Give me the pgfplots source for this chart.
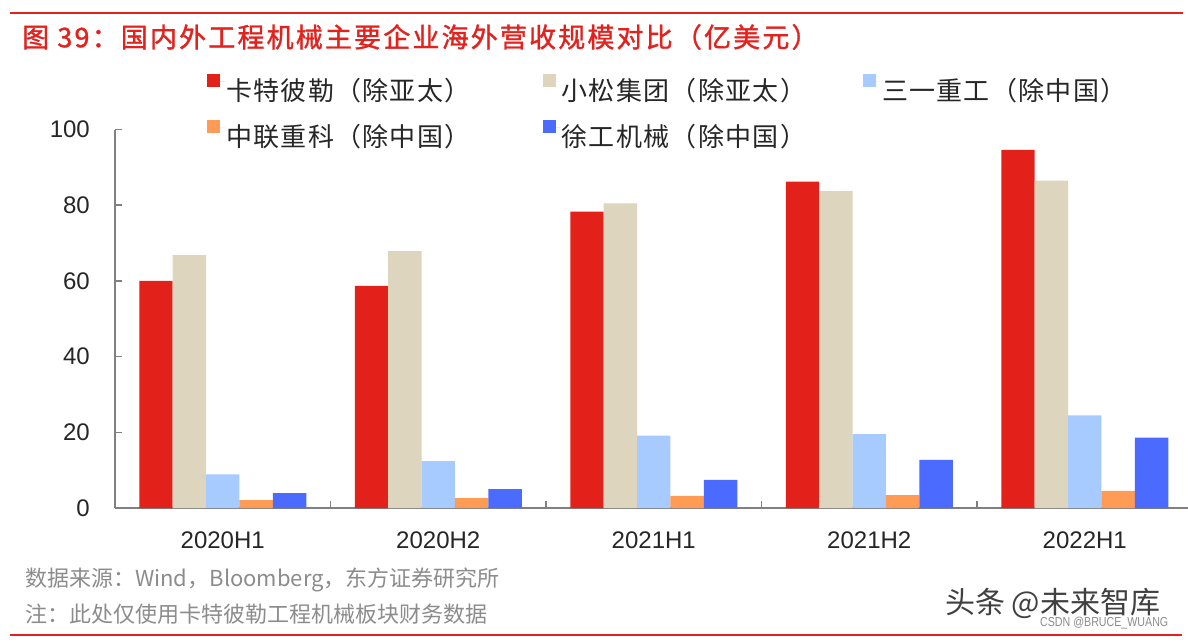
\documentclass[border=0pt]{standalone}
\usepackage{fontspec}
\setmainfont{Liberation Sans}
\newfontfamily\cjk{Noto Sans CJK SC}
\newfontfamily\cjktitle{Noto Sans CJK SC}[FakeBold=1.3, LetterSpace=8]
\newfontfamily\cjklegend{Noto Sans CJK SC}[LetterSpace=5]
\usepackage{pgfplots}
\pgfplotsset{compat=1.18}

\definecolor{cred}{HTML}{E2211A}
\definecolor{cbeige}{HTML}{DED5BE}
\definecolor{clblue}{HTML}{A7CAFF}
\definecolor{corange}{HTML}{FF9B55}
\definecolor{cblue}{HTML}{4B6BFF}
\definecolor{titlered}{HTML}{E3221E}
\definecolor{axisgray}{HTML}{808080}
\definecolor{labelc}{HTML}{262626}
\definecolor{notegray}{HTML}{8C8C8C}

\begin{document}
\begin{tikzpicture}
\path[use as bounding box] (0pt,0pt) rectangle (1188pt,-642pt);
\fill[white] (0pt,0pt) rectangle (1188pt,-642pt);
% top and bottom rules
\draw[line width=2.5pt, titlered] (10pt,-13pt) -- (1183pt,-13pt);
\draw[line width=2.5pt, titlered] (10pt,-635pt) -- (1182pt,-635pt);
% title
\node[anchor=west, inner sep=0pt, text=titlered, font=\cjktitle\fontsize{27}{30}\selectfont]
  at (22pt,-37pt) {图 39：国内外工程机械主要企业海外营收规模对比（亿美元）};

\begin{axis}[
  at={(115pt,-508pt)}, anchor=south west,
  scale only axis, width=1077.5pt, height=378.5pt,
  xmin=-0.5, xmax=4.5, ymin=0, ymax=100,
  axis x line*=bottom, axis y line*=left,
  axis line style={draw=axisgray, line width=1.5pt},
  ybar=0pt, bar width=33.4pt,
  xtick={0,1,2,3,4},
  xticklabels={2020H1,2020H2,2021H1,2021H2,2022H1},
  minor xtick={0.5,1.5,2.5,3.5},
  major x tick style={draw=none},
  ytick={0,20,40,60,80,100},
  /pgf/number format/assume math mode=true,
  tick align=inside, major tick length=7pt, minor tick length=7pt,
  tick style={draw=axisgray, line width=1.5pt},
  yticklabel style={font=\fontsize{24}{24}\selectfont, text=labelc, inner sep=0pt, xshift=-25pt},
  xticklabel style={font=\fontsize{24}{24}\selectfont, text=labelc, inner sep=0pt, yshift=-24pt},
  legend columns=3,
  legend style={at={(0.0854,1.146)}, anchor=north west, draw=none, fill=none,
    inner sep=0pt, row sep=17pt,
    font=\cjklegend\fontsize{26}{26}\selectfont, text=labelc,
    nodes={inner sep=1pt},
    /tikz/column 2/.style={column sep=71pt},
    /tikz/column 4/.style={column sep=56pt}},
  legend image code/.code={\fill[#1] (0pt,3pt) rectangle (13pt,16pt); \path (0pt,9pt) -- (18pt,9pt);},
  clip=false,
]
\addplot[fill=cred, draw=none] coordinates {(0,60.0) (1,58.7) (2,78.3) (3,86.2) (4,94.6)};
\addlegendentry{卡特彼勒（除亚太）}
\addplot[fill=cbeige, draw=none] coordinates {(0,66.8) (1,67.9) (2,80.5) (3,83.7) (4,86.5)};
\addlegendentry{小松集团（除亚太）}
\addplot[fill=clblue, draw=none] coordinates {(0,8.9) (1,12.4) (2,19.1) (3,19.5) (4,24.5)};
\addlegendentry{三一重工（除中国）}
\addplot[fill=corange, draw=none] coordinates {(0,2.1) (1,2.6) (2,3.2) (3,3.4) (4,4.5)};
\addlegendentry{中联重科（除中国）}
\addplot[fill=cblue, draw=none] coordinates {(0,3.9) (1,5.0) (2,7.4) (3,12.7) (4,18.6)};
\addlegendentry{徐工机械（除中国）}
\end{axis}

% notes
\node[anchor=west, inner sep=0pt, text=notegray, font=\cjk\fontsize{22}{24}\selectfont]
  at (25pt,-580pt) {数据来源：Wind，Bloomberg，东方证券研究所};
\node[anchor=west, inner sep=0pt, text=notegray, font=\cjk\fontsize{22}{24}\selectfont]
  at (25pt,-614pt) {注：此处仅使用卡特彼勒工程机械板块财务数据};
% watermarks
\node[anchor=west, inner sep=0pt, text=black!75, font=\cjk\fontsize{30}{32}\selectfont]
  at (945pt,-603pt) {头条 @未来智库};
\node[anchor=west, inner sep=0pt, text=black!45, font=\fontsize{13}{15}\selectfont,
  xscale=0.82, transform shape]
  at (1040pt,-623pt) {CSDN @BRUCE\_WUANG};
\end{tikzpicture}
\end{document}
